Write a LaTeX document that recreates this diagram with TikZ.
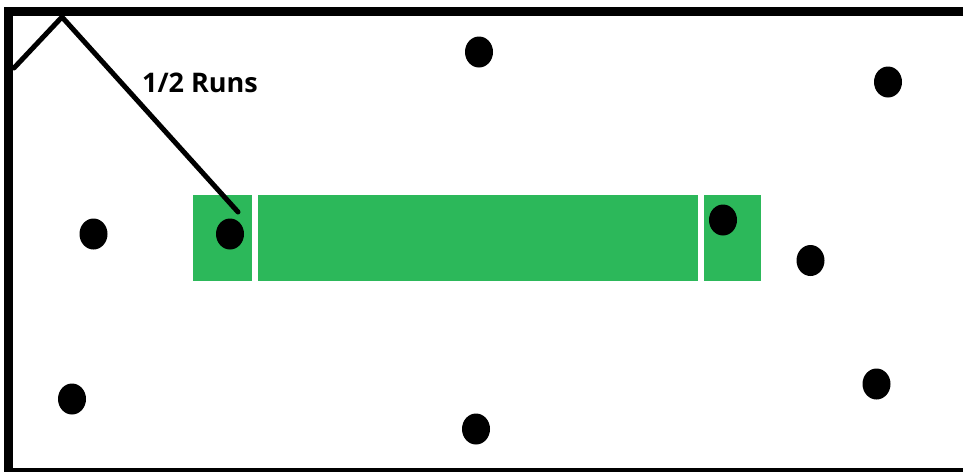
\documentclass[tikz,border=0pt]{standalone}
\usepackage{fontspec}
\newfontfamily\labelfont{Open Sans}
\usetikzlibrary{shapes.geometric}
\definecolor{boxgreen}{RGB}{44,184,90}
\tikzset{
  dotmark/.style={ellipse, fill=black, inner sep=0pt, minimum width=28pt, minimum height=31pt},
  greenbox/.style={rectangle, fill=boxgreen, inner sep=0pt, anchor=north west},
  wall/.style={line width=9pt, line join=miter},
  runline/.style={line width=5pt, line cap=round, line join=round},
}
\begin{document}
\begin{tikzpicture}[x=1pt,y=-1pt]
\useasboundingbox (0,0) rectangle (971,472);
% green boxes
\node[greenbox, minimum width=59pt, minimum height=86pt] (gl) at (193,195) {};
\node[greenbox, minimum width=440pt, minimum height=86pt] (gm) at (258,195) {};
\node[greenbox, minimum width=57pt, minimum height=86pt] (gr) at (704,195) {};
% frame
\draw[wall] (963,11.5) -- (8.5,11.5) -- (8.5,472);
\draw[line width=4pt] (8.5,470) -- (963,470);
% dots
\node[dotmark] (d1) at (479,52) {};
\node[dotmark] (d2) at (888,82) {};
\node[dotmark] (d3) at (93.5,234) {};
\node[dotmark] (d4) at (230,234) {};
\node[dotmark] (d5) at (723,220) {};
\node[dotmark] (d6) at (810.5,260.5) {};
\node[dotmark] (d7) at (72,399) {};
\node[dotmark] (d8) at (876.5,384) {};
\node[dotmark] (d9) at (476,429) {};
% run lines
\coordinate (cl) at (14,68);
\coordinate (apex) at (62,17);
\coordinate (lend) at (238,212);
\draw[runline] (cl) -- (apex) -- (lend);
\node[font=\labelfont\bfseries\fontsize{27}{32}\selectfont, anchor=base, inner sep=0pt] (lbl) at (200,92) {1/2 Runs};
\end{tikzpicture}
\end{document}
